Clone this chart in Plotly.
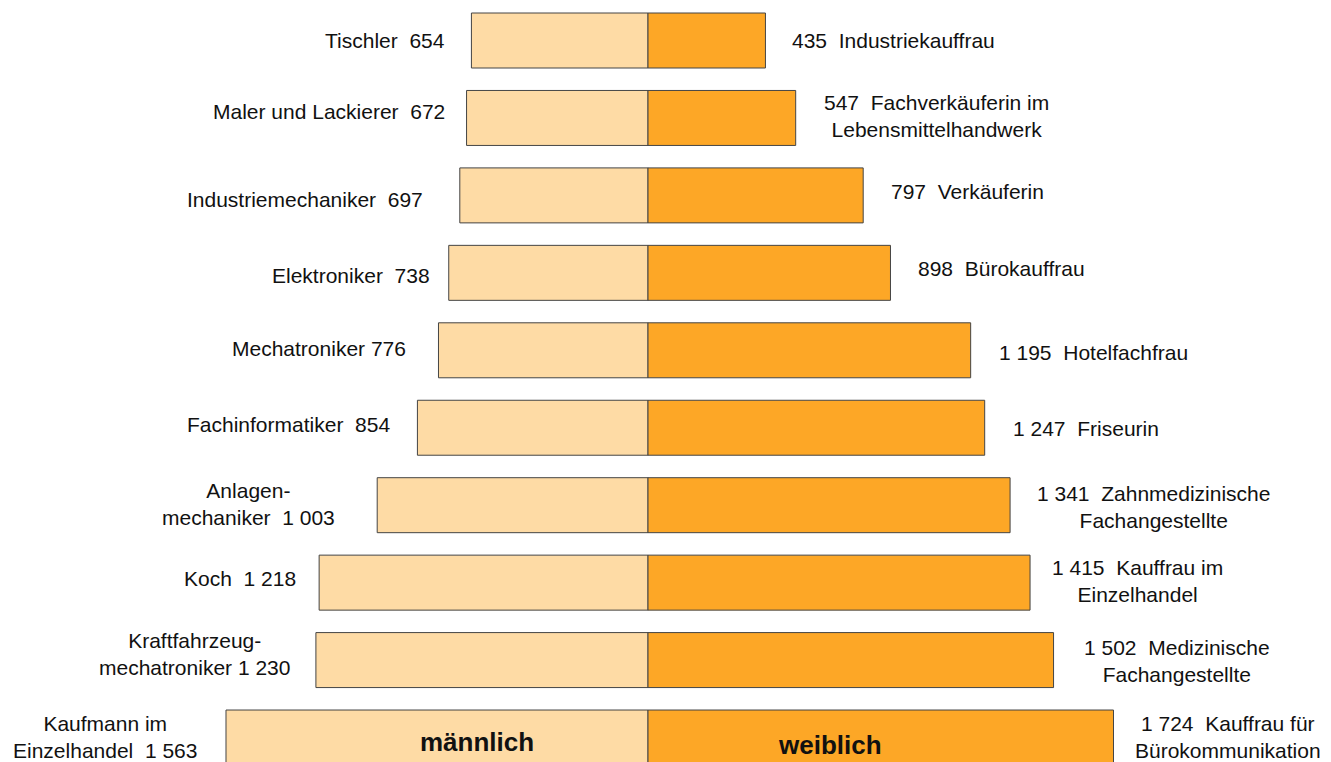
import plotly.graph_objects as go

# ---- data ----
male_jobs = ["Tischler  654", "Maler und Lackierer  672", "Industriemechaniker  697",
             "Elektroniker  738", "Mechatroniker 776", "Fachinformatiker  854",
             "Anlagen-<br>mechaniker  1 003", "Koch  1 218",
             "Kraftfahrzeug-<br>mechatroniker 1 230", "Kaufmann im<br>Einzelhandel  1 563"]
male_values = [654, 672, 697, 738, 776, 854, 1003, 1218, 1230, 1563]

female_jobs = ["435  Industriekauffrau", "547  Fachverkäuferin im<br>Lebensmittelhandwerk",
               "797  Verkäuferin", "898  Bürokauffrau", "1 195  Hotelfachfrau",
               "1 247  Friseurin", "1 341  Zahnmedizinische<br>Fachangestellte",
               "1 415  Kauffrau im<br>Einzelhandel", "1 502  Medizinische<br>Fachangestellte",
               "1 724  Kauffrau für<br>Bürokommunikation"]
female_values = [435, 547, 797, 898, 1195, 1247, 1341, 1415, 1502, 1724]

legend_labels = ["männlich", "weiblich"]

# ---- style ----
rows = list(range(len(male_values)))
LEFT_COLOR = "#FEDBA5"
RIGHT_COLOR = "#FDA726"
EDGE = "#444444"
FONT = "Liberation Sans, Arial, sans-serif"
left_gap = [24, 20, 35, 17, 30, 25, 40, 21, 24, 27]
left_dy = [0, 6, -4, -3, 2, 3, 1, 4, 6, 1]
right_gap = [25, 26, 26, 26, 26, 26, 25, 20, 28, 20]
right_dy = [0, 2, 4, 4, -2, -1, -2, 2, -1, 1]

fig = go.Figure()
fig.add_trace(go.Bar(
    y=rows, x=[-v for v in male_values], orientation="h", width=0.71,
    marker=dict(color=LEFT_COLOR, line=dict(color=EDGE, width=1)),
    hoverinfo="skip", showlegend=False))
fig.add_trace(go.Bar(
    y=rows, x=female_values, orientation="h", width=0.71,
    marker=dict(color=RIGHT_COLOR, line=dict(color=EDGE, width=1)),
    hoverinfo="skip", showlegend=False))

annotations = []
for i in rows:
    annotations.append(dict(
        x=-male_values[i], y=i, xref="x", yref="y", text=male_jobs[i],
        showarrow=False, xanchor="right", yanchor="middle", align="center",
        xshift=-left_gap[i], yshift=left_dy[i],
        font=dict(family=FONT, size=21, color="#111111")))
    annotations.append(dict(
        x=female_values[i], y=i, xref="x", yref="y", text=female_jobs[i],
        showarrow=False, xanchor="left", yanchor="middle", align="center",
        xshift=right_gap[i], yshift=right_dy[i],
        font=dict(family=FONT, size=21, color="#111111")))

last = rows[-1]
annotations.append(dict(
    x=-633, y=last, xref="x", yref="y", text="<b>" + legend_labels[0] + "</b>",
    showarrow=False, xanchor="center", yanchor="middle", yshift=-4,
    font=dict(family=FONT, size=26, color="#111111")))
annotations.append(dict(
    x=674, y=last, xref="x", yref="y", text="<b>" + legend_labels[1] + "</b>",
    showarrow=False, xanchor="center", yanchor="middle", yshift=-7,
    font=dict(family=FONT, size=26, color="#111111")))

fig.update_layout(
    width=1331, height=762,
    margin=dict(l=0, r=0, t=0, b=0),
    paper_bgcolor="white", plot_bgcolor="white",
    barmode="overlay",
    hovermode=False,
    annotations=annotations,
    xaxis=dict(range=[-2400, 2529.6], visible=False, fixedrange=True),
    yaxis=dict(range=[9.316, -0.523], visible=False, fixedrange=True),
)

fig.write_html(
    "out.html",
    config={"displayModeBar": False, "staticPlot": True},
    post_script="document.body.style.margin='0';document.body.style.overflow='hidden';",
)
